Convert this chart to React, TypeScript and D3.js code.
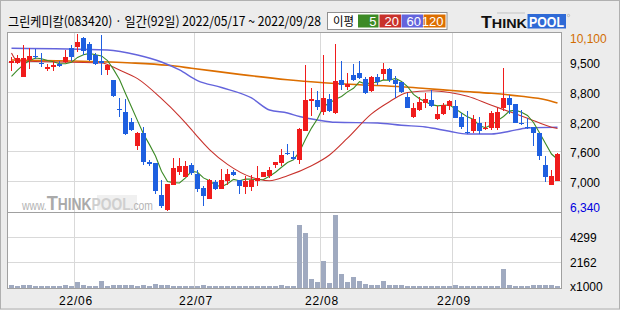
import React from 'react';
import * as d3 from 'd3';

const title = '그린케미칼(083420) · 일간(92일) 2022/05/17 ~ 2022/09/28';
const legendLabel = '이평';
const maPeriods = ['5', '20', '60', '120'];
const maColors = ['#3c8a26', '#c8322c', '#6464dc', '#dc6e00'];

const monthTickIdx = [11, 31, 52, 74];
const monthTickLabels = ['22/06', '22/07', '22/08', '22/09'];
const priceMin = 6340;
const priceMax = 10100;
const priceTickLabels = ['7,000', '7,600', '8,200', '8,800', '9,500'];
const volMax = 6436;
const volTickValues = [2162, 4299];
const volUnitLabel = 'x1000';

const opens = [9456, 9456, 9162, 9505, 9589, 9456, 9330, 9358, 9428, 9470, 9764, 9778, 9974, 9848, 9624, 9484, 9309, 9099, 8483, 8420, 8217, 7699, 7979, 7363, 7349, 6684, 6360, 6894, 7160, 7055, 7300, 7118, 6824, 6600, 6943, 6810, 6978, 7153, 6999, 6845, 6845, 6978, 7055, 7069, 7314, 7349, 7559, 7482, 7419, 8028, 8651, 8679, 8420, 8693, 8399, 9099, 8952, 9204, 9239, 9120, 8854, 9155, 9218, 9323, 9099, 9050, 8728, 8308, 8469, 8609, 8679, 8280, 8378, 8553, 8539, 8315, 8000, 8014, 8189, 8063, 8084, 8084, 8504, 8714, 8588, 8189, 8105, 8105, 7979, 7314, 6894, 6978];
const highs = [9568, 9624, 9834, 9764, 9750, 9652, 9428, 9484, 9484, 9729, 9820, 10058, 9988, 9890, 9659, 10030, 9435, 9099, 8714, 8700, 8294, 7993, 8098, 7419, 7349, 6999, 6908, 7454, 7454, 7398, 7349, 7209, 6859, 7020, 6999, 7230, 7230, 7209, 6999, 7069, 7104, 7293, 7160, 7258, 7370, 7650, 7748, 7594, 8084, 9414, 8925, 8854, 9624, 8805, 9848, 9498, 9239, 9428, 9498, 9148, 9169, 9225, 9449, 9344, 9169, 9050, 8819, 8609, 8728, 8819, 8889, 8539, 8609, 8679, 8679, 8399, 8434, 8350, 8308, 8210, 8434, 8504, 9344, 8770, 8588, 8469, 8294, 8105, 7979, 7489, 7209, 7559];
const lows = [9274, 9435, 9162, 9330, 9540, 9372, 9288, 9274, 9372, 9449, 9484, 9680, 9610, 9498, 9414, 9204, 9204, 8735, 8308, 7930, 8028, 7629, 7300, 7279, 6698, 6404, 6340, 6880, 7104, 7052, 7104, 6740, 6453, 6600, 6789, 6810, 6894, 7069, 6705, 6705, 6754, 6859, 7048, 7034, 7244, 7279, 7524, 7419, 7328, 8014, 8343, 8469, 8350, 8420, 8378, 8889, 8889, 9064, 9113, 8805, 8840, 8980, 9099, 9043, 8714, 8819, 8504, 8294, 8434, 8504, 8525, 8259, 8364, 8469, 8294, 8063, 7965, 7979, 7958, 8049, 8049, 8049, 8434, 8378, 8189, 8154, 8070, 7699, 7419, 6950, 6894, 6978];
const closes = [9498, 9554, 9554, 9589, 9568, 9428, 9372, 9414, 9379, 9575, 9575, 9890, 9694, 9519, 9435, 9449, 9407, 8763, 8455, 7958, 8035, 7979, 7363, 7335, 6754, 6439, 6908, 7244, 7293, 7286, 7139, 6810, 6649, 6999, 6803, 6999, 7118, 7104, 6859, 6964, 6999, 7034, 7153, 7209, 7370, 7524, 7538, 7433, 8063, 8679, 8693, 8525, 8714, 8434, 9078, 8980, 9008, 9085, 9134, 8819, 9148, 9043, 9323, 9099, 9015, 8833, 8504, 8504, 8630, 8693, 8539, 8378, 8560, 8658, 8294, 8098, 7979, 8273, 8014, 8084, 8399, 8420, 8714, 8574, 8189, 8168, 8084, 7979, 7503, 7048, 7069, 7538];
const priorCloses = [8900, 8983, 9150, 9314];
const volumes = [224, 140, 224, 224, 140, 140, 140, 140, 140, 224, 168, 476, 224, 140, 140, 560, 140, 224, 224, 224, 224, 168, 224, 140, 308, 224, 224, 168, 140, 140, 140, 140, 224, 140, 140, 140, 140, 140, 140, 140, 140, 140, 140, 140, 140, 224, 168, 140, 5348, 4676, 728, 476, 2268, 420, 6188, 1148, 476, 924, 588, 308, 224, 224, 560, 224, 224, 224, 140, 140, 140, 140, 140, 140, 140, 140, 224, 140, 140, 140, 140, 140, 140, 140, 1568, 280, 196, 140, 140, 224, 224, 224, 224, 168];

const ma20Idx = [0, 1, 15, 18, 21, 25, 28, 30, 31, 33, 36, 40, 43, 46, 50, 53, 56, 60, 63, 66, 70, 73, 76, 80, 83, 86, 90, 91];
const ma20Val = [9659, 9491, 9449, 9300, 9120, 8700, 8330, 8050, 7900, 7630, 7320, 7050, 6976, 7080, 7290, 7516, 7870, 8380, 8636, 8830, 8867, 8829, 8750, 8560, 8426, 8290, 8100, 8073];
const ma60Idx = [0, 16, 21, 25, 28, 31, 35, 40, 43, 46, 48, 51, 54, 61, 65, 69, 73, 76, 80, 83, 86, 91];
const ma60Val = [9758, 9722, 9617, 9470, 9302, 9080, 8934, 8714, 8462, 8399, 8325, 8252, 8203, 8189, 8140, 8104, 8014, 7957, 7957, 8014, 8084, 8098];
const ma120Idx = [0, 10, 20, 26, 30, 38, 46, 51, 58, 65, 69, 75, 80, 85, 89, 91];
const ma120Val = [9512, 9490, 9450, 9400, 9340, 9210, 9098, 9043, 8993, 8951, 8913, 8854, 8812, 8749, 8678, 8609];

const UP = '#f01c1c';
const DOWN = '#1e5fe0';
const GRID = '#d9d9d9';
const BORDER = '#a0a0a0';
const SANS = "'Liberation Sans', Arial, sans-serif";
const KR = "'Noto Sans CJK KR', sans-serif";

export default function App() {
  const W = 620;
  const H = 310;
  const left = 7;
  const right = 561;
  const pTop = 32;
  const pBot = 211;
  const vTop = 212;
  const vBot = 288;

  const x = d3.scaleLinear().domain([0, closes.length - 1]).range([11.5, 11.5 + 6 * (closes.length - 1)]);
  const yP = d3.scaleLinear().domain([priceMin, priceMax]).range([pBot, pTop]);
  const yV = d3.scaleLinear().domain([0, volMax]).range([vBot, vTop]);

  const allCloses = [...priorCloses, ...closes];
  const ma5 = closes.map((_, i) => d3.mean(allCloses.slice(i, i + 5)) as number);

  const lineIdx = d3.line<number>().x((_, i) => x(i)).y((d) => yP(d));
  const knotLine = d3
    .line<[number, number]>()
    .x((d) => x(d[0]))
    .y((d) => yP(d[1]))
    .curve(d3.curveMonotoneX);
  const zip = (a: number[], b: number[]) => a.map((v, i) => [v, b[i]] as [number, number]);

  const priceGrid = d3.range(1, 6).map((k) => priceMin + (k * (priceMax - priceMin)) / 6);
  const bw = 5;

  return (
    <svg width={W} height={H} style={{ position: 'fixed', left: 0, top: 0, display: 'block' }} fontFamily={SANS}>
      <rect x={0} y={0} width={W} height={H} fill="#ececec" />
      <rect x={0.5} y={0.5} width={619} height={308.5} fill="none" stroke="#b0b0b0" />
      <rect x={left + 0.5} y={pTop + 0.5} width={right - left} height={vBot - pTop} fill="#fff" />

      {/* grid */}
      {priceGrid.map((v, k) => (
        <line key={'pg' + k} x1={left} x2={right} y1={Math.round(yP(v)) + 0.5} y2={Math.round(yP(v)) + 0.5} stroke={GRID} />
      ))}
      {volTickValues.map((v, k) => (
        <line key={'vg' + k} x1={left} x2={right} y1={Math.round(yV(v)) + 0.5} y2={Math.round(yV(v)) + 0.5} stroke={GRID} />
      ))}
      {monthTickIdx.map((idx, k) => (
        <line key={'mg' + k} x1={x(idx) - 3} x2={x(idx) - 3} y1={pTop} y2={vBot} stroke={GRID} />
      ))}

      {/* watermark */}
      <rect x={97} y={195} width={40} height={15} fill="#f0f0f0" />
      <text x={22} y={209.5} fontWeight="bold" textLength={131} lengthAdjust="spacingAndGlyphs">
        <tspan fontSize={12} fontWeight="normal" fill="#b4b4b4">www.</tspan>
        <tspan fontSize={21} fill="#aaaaaa">T</tspan>
        <tspan fontSize={16} fill="#aaaaaa">HINK</tspan>
        <tspan fontSize={16} fill="#cfcfcf">POOL</tspan>
        <tspan fontSize={12} fontWeight="normal" fill="#b4b4b4">.com</tspan>
      </text>

      {/* volume */}
      {volumes.map((v, i) => (
        <rect key={'v' + i} x={x(i) - bw / 2} y={yV(v)} width={bw} height={vBot - yV(v)} fill="#a0aac0" shapeRendering="crispEdges" />
      ))}

      {/* moving averages */}
      <path d={knotLine(zip(ma120Idx, ma120Val)) || ''} fill="none" stroke={maColors[3]} strokeWidth={1.6} />
      <path d={knotLine(zip(ma60Idx, ma60Val)) || ''} fill="none" stroke={maColors[2]} strokeWidth={1.4} />
      <path d={knotLine(zip(ma20Idx, ma20Val)) || ''} fill="none" stroke={maColors[1]} strokeWidth={1.1} />
      <path d={lineIdx(ma5) || ''} fill="none" stroke={maColors[0]} strokeWidth={1.1} />

      {/* candles */}
      {closes.map((c, i) => {
        const o = opens[i];
        const col = c >= o ? UP : DOWN;
        const top = yP(Math.max(o, c));
        const h = Math.max(1, Math.abs(yP(o) - yP(c)));
        return (
          <g key={'c' + i} shapeRendering="crispEdges">
            <line x1={x(i)} x2={x(i)} y1={yP(highs[i])} y2={yP(lows[i])} stroke={col} />
            <rect x={x(i) - bw / 2} y={top} width={bw} height={h} fill={col} />
          </g>
        );
      })}

      {/* panel borders */}
      <rect x={left + 0.5} y={pTop + 0.5} width={right - left} height={vBot - pTop} fill="none" stroke={BORDER} />
      <line x1={left} x2={right + 0.5} y1={vTop + 0.5} y2={vTop + 0.5} stroke={BORDER} />

      {/* price labels */}
      <text x={570} y={42.5} fontSize={12} fill="#d26c00">{d3.format(',')(priceMax)}</text>
      {priceGrid.map((v, k) => (
        <text key={'pl' + k} x={570} y={Math.round(yP(v)) + 6} fontSize={12} fill="#000">{priceTickLabels[k]}</text>
      ))}
      <text x={570} y={211.5} fontSize={12} fill="#0000e0">{d3.format(',')(priceMin)}</text>
      {volTickValues.map((v, k) => (
        <text key={'vl' + k} x={570} y={Math.round(yV(v)) + 4.5} fontSize={12} fill="#000">{v}</text>
      ))}
      <text x={570} y={291} fontSize={12} fill="#000">{volUnitLabel}</text>

      {/* month labels */}
      {monthTickIdx.map((idx, k) => (
        <text key={'ml' + k} x={x(idx) - 1.5} y={304.5} fontSize={12} textAnchor="middle" fill="#000" letterSpacing={0.8}>{monthTickLabels[k]}</text>
      ))}

      {/* header */}
      <text x={8} y={26} fontSize={13} fontFamily={KR} fill="#000" textLength={313} lengthAdjust="spacingAndGlyphs">{title}</text>

      {/* legend */}
      <rect x={327.5} y={12.5} width={119.5} height={17} fill="#fff" stroke="#909090" />
      <text x={333} y={26} fontSize={12} fontFamily={KR} fill="#000" textLength={21} lengthAdjust="spacingAndGlyphs">{legendLabel}</text>
      {maPeriods.map((p, k) => {
        const bx = [358, 379.5, 401.5, 423.5][k];
        const bwid = [20.5, 21.5, 21.5, 22];
        return (
          <g key={'lg' + k}>
            <rect x={bx} y={14.5} width={bwid[k]} height={13} fill={maColors[k]} />
            <text x={bx + bwid[k] - 2} y={26} fontSize={13} fill="#fff" textAnchor="end">{p}</text>
          </g>
        );
      })}

      {/* THINKPOOL logo */}
      <rect x={497} y={12.5} width={28} height={1} fill="#c4c4c4" />
      <text x={481} y={27.5} fontWeight="bold" fill="#111" textLength={46} lengthAdjust="spacingAndGlyphs">
        <tspan fontSize={16}>T</tspan>
        <tspan fontSize={13}>HINK</tspan>
      </text>
      <rect x={527.5} y={14} width={38.5} height={14.5} fill="#2f6ad6" />
      <text x={529} y={27.3} fontSize={15} fontWeight="bold" fill="#fff" textLength={35} lengthAdjust="spacingAndGlyphs">POOL</text>
      <circle cx={568.5} cy={15.5} r={1.2} fill="none" stroke="#999" strokeWidth={0.5} />
    </svg>
  );
}
